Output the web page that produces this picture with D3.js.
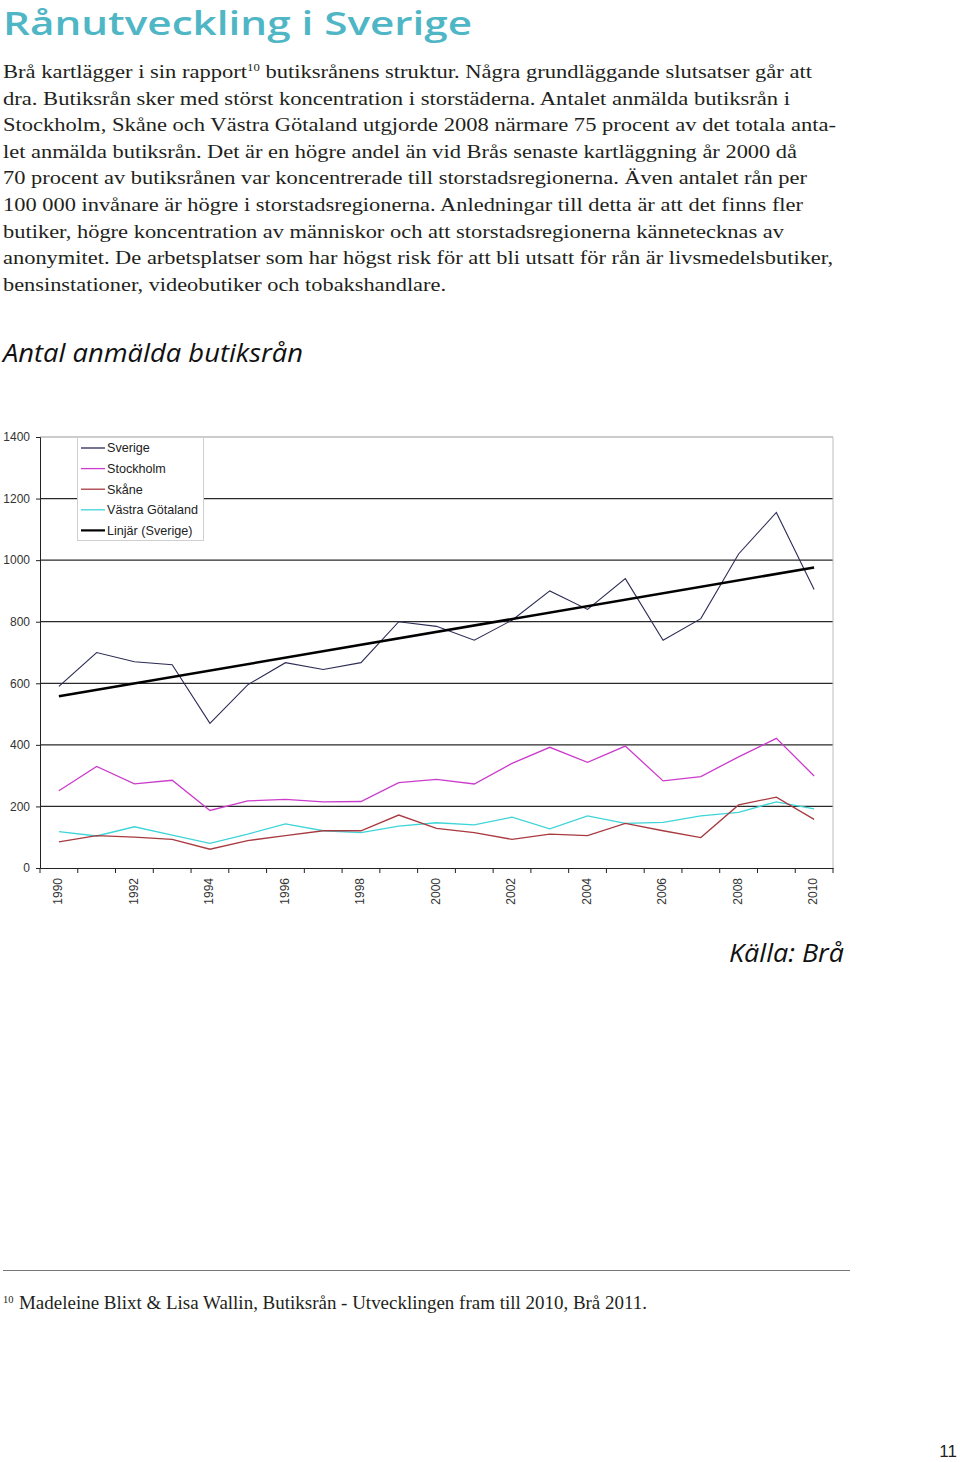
<!DOCTYPE html>
<html>
<head>
<meta charset="utf-8">
<script src="https://cdn.jsdelivr.net/npm/d3@7"></script>
<style>
  html, body { margin: 0; padding: 0; background: #fff; }
  svg { display: block; }
</style>
</head>
<body>
<div id="chart"></div>
<script>
// ---------------- data ----------------
const years = [1990,1991,1992,1993,1994,1995,1996,1997,1998,1999,2000,2001,2002,2003,2004,2005,2006,2007,2008,2009,2010];
const sverige   = [590,700,670,660,470,595,667,645,667,800,785,740,805,900,840,940,740,810,1020,1155,905];
const stockholm = [251,330,273,285,187,218,223,215,216,277,288,273,340,392,343,396,283,297,361,421,299];
const skane     = [85,105,100,93,61,89,105,121,121,172,129,115,93,110,105,145,121,99,205,230,158];
const vastra    = [118,104,134,107,80,110,143,121,115,136,147,140,165,127,169,145,148,169,181,215,192];
const yTicks = [0,200,400,600,800,1000,1200,1400];
const xTickLabels = [1990,1992,1994,1996,1998,2000,2002,2004,2006,2008,2010];
const seriesNames = ["Sverige","Stockholm","Skåne","Västra Götaland","Linjär (Sverige)"];

const titleText = "Rånutveckling i Sverige";
const bodyLines = [
  ["Brå kartlägger i sin rapport", "10", " butiksrånens struktur. Några grundläggande slutsatser går att"],
  ["dra. Butiksrån sker med störst koncentration i storstäderna. Antalet anmälda butiksrån i"],
  ["Stockholm, Skåne och Västra Götaland utgjorde 2008 närmare 75 procent av det totala anta-"],
  ["let anmälda butiksrån. Det är en högre andel än vid Brås senaste kartläggning år 2000 då"],
  ["70 procent av butiksrånen var koncentrerade till storstadsregionerna. Även antalet rån per"],
  ["100 000 invånare är högre i storstadsregionerna. Anledningar till detta är att det finns fler"],
  ["butiker, högre koncentration av människor och att storstadsregionerna kännetecknas av"],
  ["anonymitet. De arbetsplatser som har högst risk för att bli utsatt för rån är livsmedelsbutiker,"],
  ["bensinstationer, videobutiker och tobakshandlare."]
];
const bodyEnds = [812, 790, 836, 797, 807, 803, 784, 833, 446];
const chartTitle = "Antal anmälda butiksrån";
const sourceText = "Källa: Brå";
const footNum = "10";
const footText = "Madeleine Blixt & Lisa Wallin, Butiksrån - Utvecklingen fram till 2010, Brå 2011.";
const pageNum = "11";

// ---------------- page ----------------
const W = 960, H = 1462;
const svg = d3.select("#chart").append("svg").attr("width", W).attr("height", H);
svg.append("rect").attr("width", W).attr("height", H).attr("fill", "#fff");

const serif = "'Liberation Serif', 'DejaVu Serif', serif";
const sans = "'Open Sans', 'DejaVu Sans', sans-serif";
const arial = "'Liberation Sans', Arial, sans-serif";

svg.append("text")
  .attr("x", 3).attr("y", 35)
  .attr("font-family", sans).attr("font-weight", 600).attr("font-size", 32)
  .attr("fill", "#4fb6c6")
  .attr("textLength", 469).attr("lengthAdjust", "spacingAndGlyphs")
  .text(titleText);

const body = svg.append("g").attr("font-family", serif).attr("font-size", 19.5).attr("fill", "#231f20");
bodyLines.forEach((parts, i) => {
  const t = body.append("text")
    .attr("x", 3).attr("y", 78 + i * 26.6)
    .attr("textLength", bodyEnds[i] - 3).attr("lengthAdjust", "spacingAndGlyphs");
  parts.forEach((p, j) => {
    if (parts.length === 3 && j === 1) {
      t.append("tspan").attr("font-size", 11).attr("dy", -7).text(p);
    } else if (parts.length === 3 && j === 2) {
      t.append("tspan").attr("dy", 7).text(p);
    } else {
      t.append("tspan").text(p);
    }
  });
});

svg.append("text")
  .attr("x", 3).attr("y", 362)
  .attr("font-family", sans).attr("font-style", "italic").attr("font-size", 26)
  .attr("fill", "#111")
  .attr("textLength", 300).attr("lengthAdjust", "spacingAndGlyphs")
  .text(chartTitle);

svg.append("text")
  .attr("x", 729).attr("y", 962)
  .attr("font-family", sans).attr("font-style", "italic").attr("font-size", 26)
  .attr("fill", "#111")
  .attr("textLength", 115).attr("lengthAdjust", "spacingAndGlyphs")
  .text(sourceText);

// ---------------- chart ----------------
const x = d3.scaleBand().domain(years).range([40, 833]);
const y = d3.scaleLinear().domain([0, 1400]).range([868, 437]);
const cx = d => x(d) + x.bandwidth() / 2;

const g = svg.append("g");

// gridlines
g.selectAll("line.grid").data(yTicks.filter(v => v > 0)).join("line")
  .attr("class", "grid")
  .attr("x1", 40).attr("x2", 833)
  .attr("y1", d => y(d)).attr("y2", d => y(d))
  .attr("stroke", d => d === 1400 ? "#9a9a9a" : "#2a2a2a")
  .attr("stroke-width", 1.2);

// right border
g.append("line").attr("x1", 833).attr("x2", 833).attr("y1", y(1400)).attr("y2", y(0))
  .attr("stroke", "#bdbdbd").attr("stroke-width", 1);

// y axis
const yAxis = g.append("g").attr("transform", "translate(40,0)")
  .call(d3.axisLeft(y).tickValues(yTicks).tickSize(4).tickPadding(6).tickFormat(d3.format("d")));
yAxis.select(".domain").attr("stroke", "#222");
yAxis.selectAll(".tick line").attr("stroke", "#222");
yAxis.selectAll("text").attr("font-family", arial).attr("font-size", 12).attr("fill", "#333");

// x axis
const xAxis = g.append("g").attr("transform", `translate(0,${y(0)})`)
  .call(d3.axisBottom(x).tickValues(xTickLabels).tickSize(0).tickPadding(0));
xAxis.select(".domain").attr("stroke", "#222");
xAxis.selectAll("text")
  .attr("font-family", arial).attr("font-size", 12).attr("fill", "#333")
  .attr("text-anchor", "end")
  .attr("transform", "translate(-1,10) rotate(-90)")
  .attr("x", 0).attr("y", 0).attr("dy", "0.35em");
const boundaries = years.map(d => x(d)).concat([x.range()[1]]);
g.selectAll("line.xtick").data(boundaries).join("line")
  .attr("class", "xtick")
  .attr("x1", d => d).attr("x2", d => d)
  .attr("y1", y(0)).attr("y2", y(0) + 5)
  .attr("stroke", "#222");

// series
const series = [
  { name: seriesNames[0], values: sverige, color: "#2b2b55", width: 1.1 },
  { name: seriesNames[1], values: stockholm, color: "#cc3ccc", width: 1.3 },
  { name: seriesNames[2], values: skane, color: "#a83a40", width: 1.3 },
  { name: seriesNames[3], values: vastra, color: "#3fd4d8", width: 1.3 }
];
const line = d3.line().x((d, i) => cx(years[i])).y(d => y(d));

[series[3], series[2], series[1], series[0]].forEach(s => {
  g.append("path").datum(s.values)
    .attr("fill", "none").attr("stroke", s.color).attr("stroke-width", s.width)
    .attr("stroke-linejoin", "miter")
    .attr("d", line);
});

// linear trend for Sverige (least squares)
const n = sverige.length;
const xm = d3.mean(d3.range(n));
const ym = d3.mean(sverige);
const slope = d3.sum(d3.range(n), i => (i - xm) * (sverige[i] - ym)) / d3.sum(d3.range(n), i => (i - xm) ** 2);
const icpt = ym - slope * xm;
const trend = [0, n - 1].map(i => ({ x: cx(years[i]), y: y(icpt + slope * i) }));
g.append("line")
  .attr("x1", trend[0].x).attr("y1", trend[0].y)
  .attr("x2", trend[1].x).attr("y2", trend[1].y)
  .attr("stroke", "#000").attr("stroke-width", 2.6);

// legend
const lg = svg.append("g").attr("transform", "translate(77,437)");
lg.append("rect").attr("x", 0.5).attr("y", 0.5).attr("width", 126).attr("height", 103)
  .attr("fill", "#fff").attr("stroke", "#cfcfcf");
const legendItems = series.map(s => ({ name: s.name, color: s.color, width: 1.3 }))
  .concat([{ name: seriesNames[4], color: "#000", width: 2.2 }]);
legendItems.forEach((d, i) => {
  const yy = 11 + i * 20.6;
  lg.append("line").attr("x1", 4).attr("x2", 28).attr("y1", yy).attr("y2", yy)
    .attr("stroke", d.color).attr("stroke-width", d.width);
  lg.append("text").attr("x", 30).attr("y", yy).attr("dy", "0.35em")
    .attr("font-family", arial).attr("font-size", 12.6).attr("fill", "#222")
    .text(d.name);
});

// ---------------- footnote ----------------
svg.append("line").attr("x1", 3).attr("x2", 850).attr("y1", 1270.5).attr("y2", 1270.5)
  .attr("stroke", "#777").attr("stroke-width", 1);
svg.append("text").attr("x", 3).attr("y", 1303)
  .attr("font-family", serif).attr("font-size", 10.5).attr("fill", "#231f20").text(footNum);
svg.append("text").attr("x", 19).attr("y", 1309)
  .attr("font-family", serif).attr("font-size", 18).attr("fill", "#231f20")
  .attr("textLength", 628).attr("lengthAdjust", "spacingAndGlyphs")
  .text(footText);

svg.append("text").attr("x", 957).attr("y", 1457).attr("text-anchor", "end")
  .attr("font-family", "'Liberation Sans Narrow', 'Liberation Sans', sans-serif")
  .attr("font-size", 17).attr("fill", "#231f20").text(pageNum);
</script>
</body>
</html>
